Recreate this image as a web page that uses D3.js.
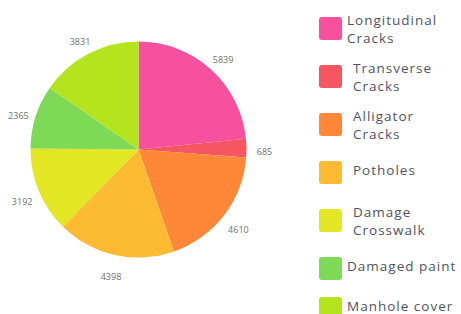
<!DOCTYPE html>
<html>
<head>
<meta charset="utf-8">
<script src="https://cdnjs.cloudflare.com/ajax/libs/d3/7.8.5/d3.min.js"></script>
<style>
  body { margin: 0; background: #fff; }
  svg { display: block; font-family: 'Open Sans', sans-serif; }
</style>
</head>
<body>
<svg id="chart" width="461" height="314"></svg>
<script>
// data
const categories = [
    ['Longitudinal', 'Cracks'],
    ['Transverse', 'Cracks'],
    ['Alligator', 'Cracks'],
    ['Potholes'],
    ['Damage', 'Crosswalk'],
    ['Damaged paint'],
    ['Manhole cover']
];
const counts = [5839, 685, 4610, 4398, 3192, 2365, 3831];
const colors = ['#f6509e', '#f65562', '#ff8838', '#fdba33', '#e3e622', '#7ed957', '#b3e41e'];

const svg = d3.select('#chart');
const height = +svg.attr('height');
const cx = 138.5, cy = 149.5, radius = 108;

const data = counts.map((v, i) => ({ name: categories[i], value: v, color: colors[i] }));

const pie = d3.pie().sort(null).value(d => d.value);
const arc = d3.arc().innerRadius(0).outerRadius(radius);
const labelArc = d3.arc().innerRadius(radius + 18).outerRadius(radius + 18);

const g = svg.append('g').attr('transform', 'translate(' + cx + ',' + cy + ')');

const arcs = pie(data);

// slices
g.selectAll('path')
    .data(arcs)
    .enter().append('path')
    .attr('d', arc)
    .attr('fill', d => d.data.color);

// value labels outside the pie (the label box hangs a little below its anchor)
g.selectAll('text.value')
    .data(arcs)
    .enter().append('text')
    .attr('class', 'value')
    .attr('transform', d => {
        const c = labelArc.centroid(d);
        return 'translate(' + c[0] + ',' + (c[1] + 4) + ')';
    })
    .attr('text-anchor', 'middle')
    .attr('dy', '0.35em')
    .attr('font-size', 9)
    .attr('fill', '#707070')
    .text(d => d.data.value);

// legend, the last row is pulled up so its text stays inside the frame
const legendTop = 17, step = 48;
const legend = svg.append('g').attr('transform', 'translate(319,' + legendTop + ')');
const item = legend.selectAll('g')
    .data(data)
    .enter().append('g')
    .attr('transform', (d, i) => 'translate(0,' + Math.min(i * step, height - legendTop - 17) + ')');

item.append('rect')
    .attr('width', 23)
    .attr('height', 23)
    .attr('rx', 3)
    .attr('fill', d => d.color);

item.each(function (d) {
    const t = d3.select(this).append('text')
        .attr('font-size', 13.5)
        .attr('letter-spacing', 1)
        .attr('fill', '#505265');
    const two = d.name.length > 1;
    d.name.forEach((line, k) => {
        t.append('tspan')
            .attr('x', 34)
            .attr('y', two ? 8 + k * 18 : 13.8)
            .text(line);
    });
    // long labels sit a little closer to the box
    const w = t.node().getBBox().width;
    if (w > 85) t.selectAll('tspan').attr('x', 28);
});
</script>
</body>
</html>
